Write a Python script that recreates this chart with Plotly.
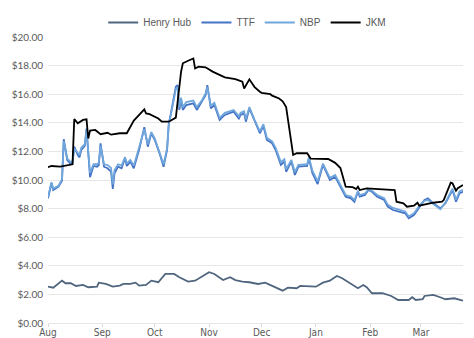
import plotly.graph_objects as go

# ---- data ----
jkm_dates = ["2023-08-01","2023-08-03","2023-08-08","2023-08-11","2023-08-14","2023-08-15","2023-08-16",
             "2023-08-18","2023-08-21","2023-08-23","2023-08-24","2023-08-25","2023-08-28","2023-08-31",
             "2023-09-04","2023-09-06","2023-09-11","2023-09-15","2023-09-19","2023-09-22","2023-09-25",
             "2023-09-26","2023-09-28","2023-10-03","2023-10-05","2023-10-09","2023-10-11","2023-10-13",
             "2023-10-16","2023-10-17","2023-10-20","2023-10-23","2023-10-24","2023-10-26","2023-10-30",
             "2023-11-03","2023-11-10","2023-11-16","2023-11-20","2023-11-21","2023-11-24","2023-11-27",
             "2023-11-30","2023-12-01","2023-12-06","2023-12-07","2023-12-11","2023-12-13","2023-12-15",
             "2023-12-19","2023-12-21","2023-12-27","2023-12-29","2024-01-03","2024-01-08","2024-01-12",
             "2024-01-15","2024-01-18","2024-01-22","2024-01-24","2024-01-25","2024-01-26","2024-01-30",
             "2024-02-15","2024-02-16","2024-02-20","2024-02-22","2024-02-26","2024-02-28","2024-02-29",
             "2024-03-04","2024-03-08","2024-03-13","2024-03-14","2024-03-18","2024-03-19","2024-03-21",
             "2024-03-22","2024-03-25"]
jkm_values = [10.90,10.98,10.93,11.00,11.05,11.10,14.27,
              13.96,14.20,14.24,12.90,13.45,13.50,13.20,
              13.30,13.17,13.27,13.27,14.15,14.55,14.94,
              14.66,14.60,14.30,14.08,14.08,14.24,14.36,
              17.57,18.16,18.34,18.50,17.80,17.93,17.88,
              17.58,17.18,17.06,16.87,16.40,17.04,16.50,
              16.17,16.10,16.00,15.90,15.70,15.50,15.10,
              11.75,11.87,11.87,11.50,11.50,11.47,11.20,
              10.84,9.53,9.50,9.37,9.53,9.30,9.42,
              9.30,8.48,8.37,8.13,8.20,8.41,8.20,
              8.32,8.41,8.48,8.60,9.81,9.77,9.25,
              9.42,9.65]

eu_dates = ["2023-08-01","2023-08-03","2023-08-04","2023-08-07","2023-08-09","2023-08-10","2023-08-12",
            "2023-08-14","2023-08-15","2023-08-16","2023-08-18","2023-08-19","2023-08-20","2023-08-22",
            "2023-08-23","2023-08-25","2023-08-27","2023-08-29","2023-08-30","2023-08-31","2023-09-02",
            "2023-09-04","2023-09-06","2023-09-07","2023-09-08","2023-09-10","2023-09-12","2023-09-14",
            "2023-09-15","2023-09-17","2023-09-19","2023-09-22","2023-09-25","2023-09-27","2023-09-29",
            "2023-10-01","2023-10-04","2023-10-06","2023-10-08","2023-10-09","2023-10-10","2023-10-13",
            "2023-10-14","2023-10-15","2023-10-16","2023-10-17","2023-10-19","2023-10-23","2023-10-25",
            "2023-10-28","2023-10-30","2023-10-31","2023-11-02","2023-11-04","2023-11-07","2023-11-10",
            "2023-11-15","2023-11-18","2023-11-19","2023-11-21","2023-11-22","2023-11-24","2023-11-27",
            "2023-11-30","2023-12-02","2023-12-04","2023-12-07","2023-12-09","2023-12-12","2023-12-14",
            "2023-12-15","2023-12-18","2023-12-20","2023-12-22","2023-12-27","2023-12-28","2023-12-30",
            "2024-01-02","2024-01-05","2024-01-09","2024-01-12","2024-01-15","2024-01-18","2024-01-21",
            "2024-01-23","2024-01-25","2024-01-26","2024-01-29","2024-01-31","2024-02-02","2024-02-05",
            "2024-02-09","2024-02-11","2024-02-14","2024-02-18","2024-02-21","2024-02-23","2024-02-26",
            "2024-03-01","2024-03-03","2024-03-05","2024-03-08","2024-03-12","2024-03-15","2024-03-19",
            "2024-03-21","2024-03-23","2024-03-25"]
ttf_values = [8.72,9.77,9.30,9.53,9.95,12.85,11.40,
              11.12,11.17,12.33,11.75,11.58,12.10,12.38,
              13.60,10.19,10.98,10.93,11.05,12.56,10.93,
              10.82,10.58,9.37,10.47,10.93,10.82,11.52,
              10.98,11.28,10.82,12.10,13.69,12.33,13.27,
              12.80,11.75,10.93,12.10,13.97,14.55,16.52,
              16.64,14.90,15.60,14.90,15.24,15.36,14.90,
              15.48,15.94,16.64,15.01,15.24,14.20,14.55,
              14.78,14.30,14.55,14.66,14.08,15.00,14.08,
              13.27,13.78,12.80,12.57,12.10,11.05,11.28,
              10.58,11.28,10.35,10.93,10.98,11.52,10.47,
              9.72,11.05,10.00,10.23,9.53,8.83,8.72,
              8.48,9.18,8.83,8.95,9.30,9.18,8.83,
              8.60,8.13,7.90,7.78,7.67,7.32,7.55,
              8.25,8.60,8.72,8.37,8.02,8.37,9.30,
              8.48,9.07,9.18]
nbp_values = [8.80,9.85,9.40,9.60,10.05,12.70,11.50,
              11.25,11.30,12.20,11.90,11.75,12.25,12.50,
              13.45,10.50,11.10,11.10,11.20,12.40,11.10,
              11.05,10.85,9.70,10.70,11.10,11.00,11.60,
              11.15,11.40,11.00,12.20,13.55,12.50,13.35,
              12.90,11.90,11.10,12.20,13.90,14.45,16.35,
              16.50,15.10,15.75,15.10,15.45,15.55,15.10,
              15.60,16.05,16.50,15.20,15.40,14.35,14.70,
              14.90,14.45,14.70,14.80,14.25,15.10,14.20,
              13.40,13.90,12.95,12.70,12.25,11.25,11.45,
              10.75,11.40,10.55,11.05,11.10,11.60,10.65,
              9.90,11.15,10.15,10.35,9.70,8.95,8.85,
              8.60,9.25,8.95,9.05,9.35,9.25,8.95,
              8.72,8.28,8.05,7.92,7.80,7.45,7.68,
              8.35,8.55,8.60,8.30,7.95,8.45,9.40,
              8.62,9.20,9.32]

hh_dates = ["2023-08-01","2023-08-04","2023-08-09","2023-08-11","2023-08-14","2023-08-17","2023-08-21",
            "2023-08-24","2023-08-29","2023-08-30","2023-09-03","2023-09-07","2023-09-11","2023-09-13",
            "2023-09-17","2023-09-20","2023-09-22","2023-09-26","2023-09-29","2023-10-03","2023-10-07",
            "2023-10-12","2023-10-15","2023-10-20","2023-10-24","2023-10-27","2023-11-01","2023-11-04",
            "2023-11-09","2023-11-13","2023-11-16","2023-11-20","2023-11-24","2023-11-29","2023-12-03",
            "2023-12-08","2023-12-13","2023-12-16","2023-12-21","2023-12-23","2023-12-28","2024-01-01",
            "2024-01-05","2024-01-09","2024-01-11","2024-01-13","2024-01-16","2024-01-21","2024-01-25",
            "2024-01-28","2024-01-30","2024-02-02","2024-02-08","2024-02-13","2024-02-17","2024-02-23",
            "2024-02-25","2024-02-27","2024-03-02","2024-03-03","2024-03-08","2024-03-12","2024-03-15",
            "2024-03-20","2024-03-25"]
hh_values = [2.54,2.47,2.96,2.78,2.78,2.59,2.66,
             2.50,2.54,2.82,2.73,2.54,2.61,2.73,
             2.73,2.82,2.61,2.66,2.96,2.85,3.43,
             3.43,3.20,2.89,2.96,3.20,3.55,3.43,
             3.00,3.20,3.00,2.89,2.85,2.73,2.82,
             2.54,2.26,2.47,2.43,2.59,2.54,2.54,
             2.82,2.96,3.13,3.29,3.13,2.73,2.43,
             2.66,2.50,2.08,2.08,1.89,1.61,1.61,
             1.80,1.61,1.66,1.89,1.96,1.80,1.66,
             1.73,1.56]

y_tick_vals = [0, 2, 4, 6, 8, 10, 12, 14, 16, 18, 20]

fig = go.Figure()
fig.add_trace(go.Scatter(x=hh_dates, y=hh_values, name="Henry Hub", mode="lines",
                         line=dict(color="#50667f", width=1.8)))
fig.add_trace(go.Scatter(x=eu_dates, y=ttf_values, name="TTF", mode="lines",
                         line=dict(color="#4472c4", width=1.8)))
fig.add_trace(go.Scatter(x=eu_dates, y=nbp_values, name="NBP", mode="lines",
                         line=dict(color="#6fa6dc", width=1.8)))
fig.add_trace(go.Scatter(x=jkm_dates, y=jkm_values, name="JKM", mode="lines",
                         line=dict(color="#000000", width=1.8)))

fig.update_layout(
    width=474, height=338,
    margin=dict(l=48, r=11, t=37, b=15, autoexpand=False),
    paper_bgcolor="white", plot_bgcolor="white",
    font=dict(family="Liberation Sans, Arial, sans-serif", size=10, color="#595959"),
    showlegend=True,
    legend=dict(orientation="h", x=0.48, xanchor="center", y=1.0, yanchor="bottom",
                font=dict(family="Liberation Sans, Arial, sans-serif", size=10, color="#595959"),
                itemwidth=30, bgcolor="rgba(0,0,0,0)"),
    xaxis=dict(type="date", range=["2023-08-01", "2024-03-25"],
               tick0="2023-08-01", dtick="M1", tickformat="%b",
               showgrid=False, zeroline=False, showline=False,
               ticks="outside", ticklen=3, tickcolor="#d9d9d9",
               ticklabelstandoff=-3,
               tickfont=dict(family="Liberation Sans Narrow, DejaVu Sans Condensed, sans-serif",
                             size=10, color="#595959"),
               fixedrange=True),
    yaxis=dict(range=[0, 20], tickmode="array", tickvals=y_tick_vals,
               ticktext=["$%.2f" % v for v in y_tick_vals],
               showgrid=True, gridcolor="#e6e6e6", gridwidth=1,
               zeroline=True, zerolinecolor="#e6e6e6", zerolinewidth=1,
               showline=False, ticks="", ticklabelstandoff=4,
               tickfont=dict(family="Lato, sans-serif", size=10, color="#595959"),
               fixedrange=True),
)

fig.write_html("out.html")
